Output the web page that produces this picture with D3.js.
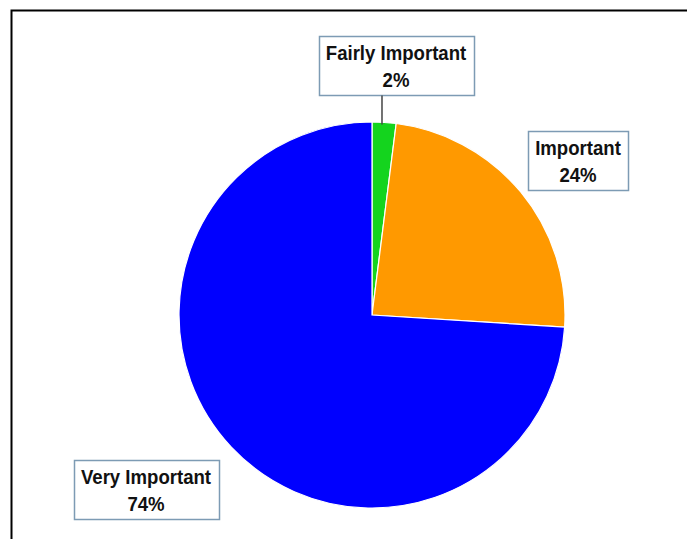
<!DOCTYPE html>
<html>
<head>
<meta charset="utf-8">
<script src="https://cdn.jsdelivr.net/npm/d3@7"></script>
<style>
  html, body { margin: 0; padding: 0; background: #fff; }
  svg { display: block; }
  .lbl { font-family: "Liberation Sans Narrow", "Arial Narrow", "Liberation Sans", sans-serif; font-weight: bold; fill: #111; }
</style>
</head>
<body>
<div id="chart"></div>
<script>
const categories = ['Fairly Important', 'Important', 'Very Important'];
const shares = [2, 24, 74];
const sliceColors = ['#14d41e', '#ff9900', '#0000ff'];

// label box centres, in page pixels
const labelCenters = [[396, 66], [578, 161], [146, 490]];

const width = 687;
const height = 539;
const cx = 372;
const cy = 315;
const radius = 193;
const squeeze = 0.93; // the original uses a condensed face

const svg = d3.select('#chart')
    .append('svg')
    .attr('width', width)
    .attr('height', height);

// outer frame (top and left edges visible)
svg.append('path')
    .attr('d', `M11.5,${height} L11.5,10.5 L${width},10.5`)
    .attr('fill', 'none')
    .attr('stroke', '#000')
    .attr('stroke-width', 2);

const data = categories.map((name, i) => ({ name, value: shares[i], color: sliceColors[i] }));

const pie = d3.pie().sort(null).value((d) => d.value);
const arc = d3.arc().innerRadius(0).outerRadius(radius);
const arcs = pie(data);

const g = svg.append('g').attr('transform', `translate(${cx},${cy})`);

g.selectAll('path')
    .data(arcs)
    .join('path')
    .attr('d', arc)
    .attr('fill', (d) => d.data.color)
    .attr('stroke', '#fff')
    .attr('stroke-width', 1.2);

// labels
const labels = svg.selectAll('g.label')
    .data(arcs)
    .join('g')
    .attr('class', 'label')
    .attr('transform', (d, i) => `translate(${labelCenters[i][0]},${labelCenters[i][1]})`);

labels.each(function (d) {
    const lg = d3.select(this);
    const text = lg.append('text')
        .attr('class', 'lbl')
        .attr('text-anchor', 'middle')
        .attr('transform', `scale(${squeeze},1)`)
        .style('font-size', '20px');
    text.append('tspan').attr('x', 0).attr('y', -6).text(d.data.name);
    text.append('tspan').attr('x', 0).attr('y', 21).text(`${d.data.value}%`);

    const bb = text.node().getBBox();
    const w = bb.width * squeeze;
    lg.insert('rect', 'text')
        .attr('x', Math.round(-w / 2 - 7) + 0.5)
        .attr('y', -29.5)
        .attr('width', Math.round(w + 14))
        .attr('height', 59)
        .attr('fill', '#fff')
        .attr('stroke', '#7d9bb4')
        .attr('stroke-width', 1.5);
});

// leader line for the small slice
const small = arcs[0];
const mid = (small.startAngle + small.endAngle) / 2;
const lx = cx + Math.sin(mid) * (radius - 2) - 2;
svg.append('line')
    .attr('x1', lx)
    .attr('x2', lx)
    .attr('y1', labelCenters[0][1] + 29.5)
    .attr('y2', cy - Math.cos(mid) * radius + 2)
    .attr('stroke', '#444')
    .attr('stroke-width', 1.5);
</script>
</body>
</html>
